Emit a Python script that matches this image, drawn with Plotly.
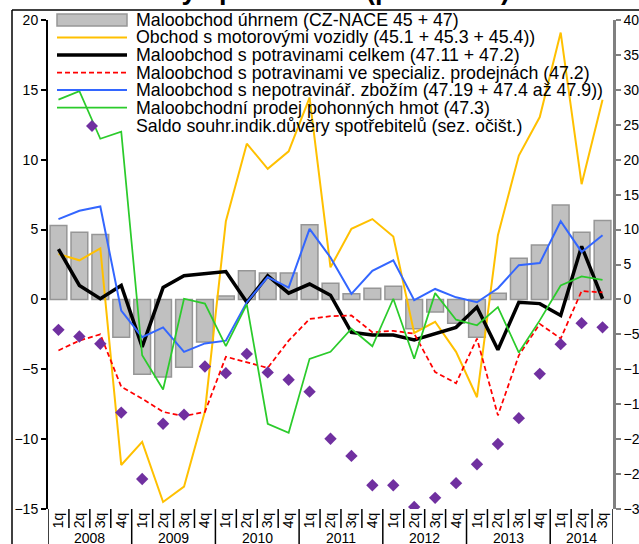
import plotly.graph_objects as go

# ---------------- data ----------------
quarters = ["1q", "2q", "3q", "4q"] * 6 + ["1q", "2q", "3q"]
years = ["2008", "2009", "2010", "2011", "2012", "2013", "2014"]
quarters_per_year = [4, 4, 4, 4, 4, 4, 3]

maloobchod_uhrnem = [5.3, 4.8, 4.65, -2.7, -5.35, -5.55, -4.85, -3.05, 0.25, 2.05, 1.9, 1.9, 5.35, 1.15,
                     0.4, 0.8, 0.95, -2.1, -0.9, -1.7, -2.7, 0.45, 2.95, 3.9, 6.75, 4.8, 5.65]
motorova_vozidla = [3.25, 2.8, 3.65, -11.85, -10.2, -14.5, -13.4, -8.0, 5.6, 11.15, 9.35, 10.6, 14.45, 2.3,
                    5.05, 5.75, 4.5, -2.4, -1.6, -3.75, -7.0, 4.6, 10.3, 13.05, 19.1, 8.25, 14.3]
potraviny_celkem = [3.6, 1.0, 0.05, 1.0, -3.4, 0.85, 1.7, 1.85, 2.0, -0.2, 1.7, 0.45, 1.1, 0.3,
                    -2.35, -2.55, -2.55, -2.9, -2.45, -2.0, -0.55, -3.6, -0.2, -0.3, -1.15, 3.8, 0.05]
potraviny_specializ = [-3.65, -2.95, -2.5, -6.25, -7.1, -8.05, -8.35, -8.05, -4.1, -4.5, -4.9, -2.95, -1.4, -1.2,
                       -1.15, -2.35, -2.25, -2.45, -5.2, -6.0, -2.8, -8.3, -4.0, -1.75, -2.8, 0.6, 0.5]
nepotravinarske = [5.75, 6.35, 6.65, -0.8, -2.7, -2.0, -3.75, -3.15, -2.95, -0.2, 1.6, 0.85, 5.05, 3.0,
                   0.4, 2.05, 2.8, -0.05, 0.75, 0.15, -0.2, 0.8, 2.45, 2.6, 5.6, 3.4, 4.6]
pohonne_hmoty = [14.3, 14.9, 11.5, 12.0, -4.0, -6.45, 0.05, -0.3, -3.35, -0.35, -8.9, -9.55, -4.25, -3.75,
                 -2.1, -3.35, 0.05, -4.25, 0.45, -1.45, -1.85, -0.55, -3.8, -1.5, 1.0, 1.65, 1.4]
saldo_duvery = [-4.35, -5.3, -6.35, -16.2, -25.7, -17.8, -16.5, -9.6, -10.55, -7.8, -10.45, -11.5, -13.2, -19.95,
                -22.4, -26.6, -26.6, -29.7, -28.4, -26.3, -23.6, -20.7, -17.0, -10.65, -6.4, -3.4, -4.0]

series_names = [
    "Maloobchod úhrnem (CZ-NACE 45 + 47)",
    "Obchod s motorovými vozidly (45.1 + 45.3 + 45.4))",
    "Maloobchod s potravinami celkem (47.11 + 47.2)",
    "Maloobchod s potravinami ve specializ. prodejnách (47.2)",
    "Maloobchod s nepotravinář. zbožím (47.19 + 47.4 až 47.9))",
    "Maloobchodní prodej pohonných hmot (47.3)",
    "Saldo souhr.indik.důvěry spotřebitelů (sez. očišt.)",
]
title_text = "důvěry spotřebitelů (pravá osa)"

# ---------------- geometry helpers ----------------
W, H = 639, 544
ML, MR, MT, MB = 48, 26, 20, 35
PW, PH = W - ML - MR, H - MT - MB


def px(x):
    return (x - ML) / PW


def py(y):
    return (H - MB - y) / PH


FONT = "Liberation Sans, Arial, sans-serif"
idx = list(range(len(quarters)))

line_styles = [
    dict(color="#FFC000", width=2),
    dict(color="#000000", width=3.5),
    dict(color="#FF0000", width=1.75, dash="5px,3px"),
    dict(color="#3366FF", width=2),
    dict(color="#2BCB2B", width=1.75),
]
line_data = [motorova_vozidla, potraviny_celkem, potraviny_specializ, nepotravinarske, pohonne_hmoty]

fig = go.Figure()
fig.add_trace(go.Bar(x=idx, y=maloobchod_uhrnem, name=series_names[0], width=0.8,
                     marker=dict(color="#C0C0C0", line=dict(color="#969696", width=1.5)),
                     xaxis="x", yaxis="y"))
for name, vals, st in zip(series_names[1:6], line_data, line_styles):
    fig.add_trace(go.Scatter(x=idx, y=vals, name=name, mode="lines", line=st,
                             xaxis="x", yaxis="y"))
fig.add_trace(go.Scatter(x=idx, y=saldo_duvery, name=series_names[6], mode="markers",
                         marker=dict(symbol="diamond", size=9.5, color="#7030A0"),
                         xaxis="x", yaxis="y2"))

shapes = []
annotations = []

# category separators below plot
starts = []
s = 0
for n in quarters_per_year:
    starts.append(s)
    s += n
year_bounds = set([st - 0.5 for st in starts] + [len(quarters) - 0.5])
for b in [i - 0.5 for i in range(len(quarters) + 1)]:
    long = b in year_bounds
    shapes.append(dict(type="line", xref="x", yref="paper", x0=b, x1=b, y0=0,
                       y1=py(560) if long else py(528),
                       line=dict(color="black", width=1.5)))
for yr, st, n in zip(years, starts, quarters_per_year):
    annotations.append(dict(text=yr, xref="x", yref="paper", x=st + (n - 1) / 2, y=py(538),
                            xanchor="center", yanchor="middle", showarrow=False,
                            font=dict(size=14, color="black", family=FONT)))

# outer frame (partially visible)
shapes.append(dict(type="line", xref="paper", yref="paper", x0=px(12), x1=px(700), y0=py(10), y1=py(10),
                   line=dict(color="black", width=1.5)))
shapes.append(dict(type="line", xref="paper", yref="paper", x0=px(12), x1=px(12), y0=py(10), y1=py(600),
                   line=dict(color="black", width=1.5)))

# title (cut off at top)
annotations.append(dict(text="<b>" + title_text + "</b>", xref="paper", yref="paper", x=px(309), y=py(7),
                        xanchor="center", yanchor="bottom", showarrow=False,
                        font=dict(size=27, color="black", family=FONT)))

# manual legend
rows = [20, 37.5, 55, 72.5, 90, 107.5, 125.5]
x0l, x1l = px(57), px(127)
shapes.append(dict(type="rect", xref="paper", yref="paper", x0=x0l, x1=x1l, y0=py(26), y1=py(14),
                   fillcolor="#C0C0C0", line=dict(color="#969696", width=1.5)))
for r, st in zip(rows[1:6], line_styles):
    shapes.append(dict(type="line", xref="paper", yref="paper", x0=x0l, x1=x1l, y0=py(r), y1=py(r),
                       line=st))
shapes.append(dict(type="path", xref="paper", yref="paper", xsizemode="pixel", ysizemode="pixel",
                   xanchor=px(92), yanchor=py(rows[6] + 0.5), path="M0,6 L6,0 L0,-6 L-6,0 Z",
                   fillcolor="#7030A0", line=dict(color="#7030A0", width=0)))
for r, name in zip(rows, series_names):
    annotations.append(dict(text=name, xref="paper", yref="paper", x=px(134), y=py(r),
                            xanchor="left", yanchor="middle", showarrow=False,
                            font=dict(size=17.8, color="black", family=FONT)))

fig.update_layout(
    template="none",
    width=W, height=H,
    margin=dict(l=ML, r=MR, t=MT, b=MB, pad=0, autoexpand=False),
    paper_bgcolor="white", plot_bgcolor="white",
    showlegend=False,
    font=dict(family=FONT, size=14, color="black"),
    bargap=0.2,
    xaxis=dict(range=[-0.5, len(quarters) - 0.5], tickvals=idx, ticktext=quarters, tickangle=-90,
               ticks="", showline=False, showgrid=False, zeroline=False, anchor="y", automargin=False,
               tickfont=dict(size=14, family=FONT, color="black")),
    xaxis2=dict(overlaying="x", anchor="free", position=15 / 35, automargin=False,
                range=[-0.5, len(quarters) - 0.5],
                tickvals=[i - 0.5 for i in range(len(quarters) + 1)],
                ticks="outside", ticklen=4, tickwidth=1.5, tickcolor="black",
                showticklabels=False, showline=True, linecolor="black", linewidth=3,
                showgrid=False, zeroline=False),
    yaxis=dict(range=[-15, 20], tickvals=list(range(-15, 21, 5)), ticks="outside", ticklen=5,
               tickwidth=1.5, tickcolor="black", showline=True, linecolor="black", linewidth=2,
               automargin=False,
               showgrid=False, zeroline=False, tickfont=dict(size=14, family=FONT, color="black")),
    yaxis2=dict(overlaying="y", side="right", anchor="x", range=[-30, 40], automargin=False,
                tickvals=list(range(-30, 41, 5)), ticks="outside", ticklen=5, tickwidth=1.5,
                tickcolor="#808080", showline=True, linecolor="#808080", linewidth=2.5,
                showgrid=False, zeroline=False, tickfont=dict(size=14, family=FONT, color="black")),
    shapes=shapes,
    annotations=annotations,
)

fig.write_html("out.html", config={"displayModeBar": False},
               post_script="document.body.style.margin='0';document.body.style.overflow='hidden';")
